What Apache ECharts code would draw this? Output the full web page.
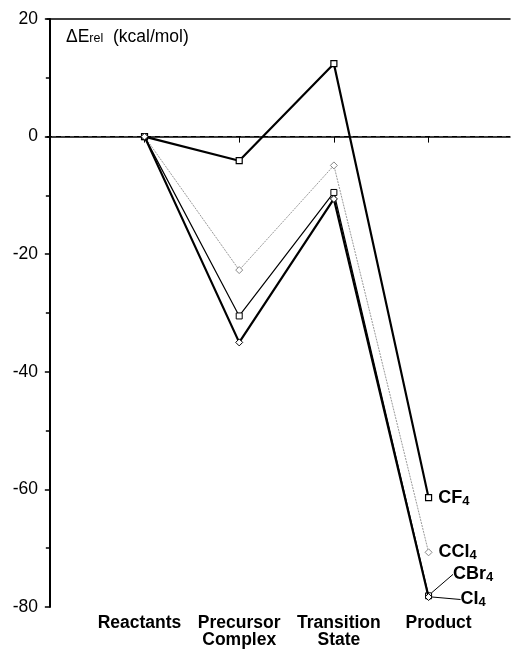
<!DOCTYPE html>
<html><head><meta charset="utf-8">
<script src="https://cdn.jsdelivr.net/npm/echarts@6/dist/echarts.min.js"></script>
<style>html,body{margin:0;padding:0;background:#fff}#c{width:513px;height:654px}</style>
</head><body><div id="c"></div>
<script>
const categories = ['Reactants', 'Precursor\nComplex', 'Transition\nState', 'Product'];
const yTicks = [20, 0, -20, -40, -60, -80];
const cf4  = [0, -4.1, 12.4, -61.4];
const ccl4 = [0, -22.7, -4.9, -70.7];
const cbr4 = [0, -30.5, -9.5, -78.1];
const ci4  = [0, -35.0, -10.6, -78.3];

const font = 'Liberation Sans, Arial, Helvetica, sans-serif';
function mk(vals, lastLabel) {
  return vals.map((v, i) => {
    const d = { value: [i + 1, v] };
    if (i === vals.length - 1 && lastLabel) d.label = lastLabel;
    return d;
  });
}
const rich = {
  a: { fontFamily: font, fontWeight: 'bold', fontSize: 18, color: '#000' },
  s: { fontFamily: font, fontWeight: 'bold', fontSize: 13, color: '#000', padding: [7, 0, 0, 0] }
};
function lbl(name) {
  return { show: true, position: 'right', formatter: '{a|' + name + '}{s|4}', rich: rich, distance: 6 };
}
const catStyles = ['c0', 'c1', 'c2', 'c3'];
const xRich = {};
const pads = [[0, 10, 0, 0], [0, 0, 0, 0], [0, 0, 0, 10], [0, 0, 0, 20]];
catStyles.forEach((k, i) => {
  xRich[k] = { fontFamily: font, fontWeight: 'bold', fontSize: 17.5, color: '#000', lineHeight: 17, padding: pads[i] };
});
const chart = echarts.init(document.getElementById('c'));
chart.setOption({
  animation: false,
  backgroundColor: '#fff',
  title: {
    text: '{d|ΔE}{r|rel}{d|  (kcal/mol)}',
    left: 61, top: 23,
    textStyle: { fontWeight: 'normal', rich: {
      d: { fontFamily: font, fontSize: 17.5, fontWeight: 'normal', color: '#000' },
      r: { fontFamily: font, fontSize: 12.5, fontWeight: 'normal', color: '#000', padding: [4, 0, 0, 0] }
    } }
  },
  grid: { left: 47, right: 3, top: 19, bottom: 47 },
  xAxis: [{
    type: 'value', min: -0.03, max: 4.86, position: 'bottom',
    axisLine: { show: true, lineStyle: { color: '#000', width: 1.5 } },
    axisTick: { show: true, customValues: [1, 2, 3, 4], length: 6, lineStyle: { color: '#000', width: 1 } },
    axisLabel: {
      customValues: [1, 2, 3, 4],
      showMinLabel: true, showMaxLabel: true, hideOverlap: false,
      formatter: v => {
        const i = Math.round(v) - 1;
        if (!categories[i]) return '';
        return categories[i].split('\n').map(t => '{' + catStyles[i] + '|' + t + '}').join('\n');
      },
      rich: xRich,
      fontFamily: font, fontWeight: 'bold', fontSize: 17.5, color: '#000', lineHeight: 17, margin: 8
    },
    splitLine: { show: false }
  }, {
    type: 'value', min: -0.03, max: 4.86, position: 'top',
    axisLine: { show: true, onZero: false, lineStyle: { color: '#000', width: 1.5 } },
    axisTick: { show: false }, axisLabel: { show: false }, splitLine: { show: false }
  }],
  yAxis: {
    type: 'value', min: -80, max: 20, interval: 20,
    axisLine: { show: true, lineStyle: { color: '#000', width: 2 } },
    axisTick: { show: true, length: 5, lineStyle: { color: '#000', width: 1.5 } },
    minorTick: { show: true, splitNumber: 2, length: 4, lineStyle: { color: '#000', width: 1.5 } },
    axisLabel: { fontFamily: font, fontSize: 17.5, color: '#000', margin: 9,
      formatter: v => yTicks.includes(v) ? String(v) : '' },
    splitLine: { show: false }
  },
  series: [
    {
      name: 'CF4', type: 'line', data: mk(cf4, lbl('CF')),
      symbol: 'rect', symbolSize: 6, showSymbol: true,
      itemStyle: { color: '#fff', borderColor: '#000', borderWidth: 1.2 },
      lineStyle: { color: '#000', width: 2.2 }, z: 5,
      markLine: { silent: true, symbol: 'none', label: { show: false },
        lineStyle: { color: '#000', type: [5, 4], width: 1.2 }, data: [{ yAxis: 0 }] }
    },
    {
      name: 'CCl4', type: 'line', data: mk(ccl4, lbl('CCl')),
      symbol: 'diamond', symbolSize: 7,
      itemStyle: { color: '#fff', borderColor: '#888', borderWidth: 1 },
      lineStyle: { color: '#999', width: 1, type: [2, 1] }, z: 3
    },
    {
      name: 'CBr4', type: 'line',
      data: mk(cbr4, { show: true, position: 'right', formatter: '{a|CBr}{s|4}', rich: rich }),
      symbol: 'rect', symbolSize: 6,
      itemStyle: { color: '#fff', borderColor: '#000', borderWidth: 1 },
      lineStyle: { color: '#000', width: 1.2 }, z: 4,
      labelLayout: { dx: 16, dy: -22 },
      labelLine: { show: true, lineStyle: { color: '#000', width: 1 } }
    },
    {
      name: 'CI4', type: 'line',
      data: mk(ci4, { show: true, position: 'right', formatter: '{a|CI}{s|4}', rich: rich }),
      symbol: 'diamond', symbolSize: 7,
      itemStyle: { color: '#fff', borderColor: '#000', borderWidth: 1 },
      lineStyle: { color: '#000', width: 2.2 }, z: 6,
      labelLayout: { dx: 23, dy: 2 },
      labelLine: { show: true, lineStyle: { color: '#000', width: 1 } }
    }
  ]
});
</script></body></html>
